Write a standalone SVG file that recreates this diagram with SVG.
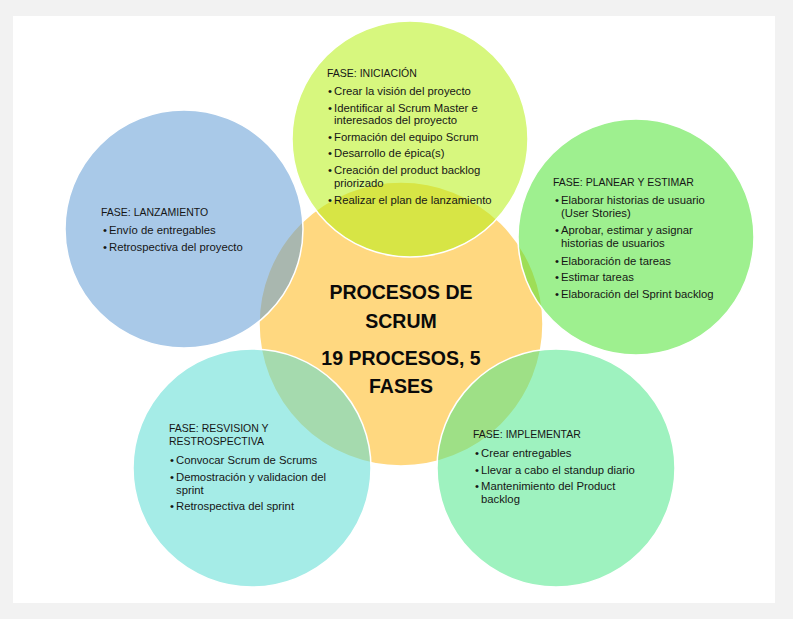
<svg xmlns="http://www.w3.org/2000/svg" width="793" height="619" viewBox="0 0 793 619">
  <style>
    .page { fill: #f2f2f2; }
    .panel { fill: #ffffff; }
    .disc { stroke: #ffffff; stroke-width: 1.5; }
    .phase { fill-opacity: 0.55; }
    text { font-family: "Liberation Sans", Arial, sans-serif; fill: #161616; }
    .head { font-size: 10.5px; }
    .item { font-size: 11.3px; }
    .core { font-size: 19.5px; font-weight: bold; fill: #0a0a0a; text-anchor: middle; }
  </style>

  <rect class="page" x="0" y="0" width="793" height="619"/>
  <rect class="panel" x="13" y="16" width="762" height="587"/>

  <!-- hub -->
  <g id="hub">
    <circle class="disc" cx="401" cy="324" r="142" fill="#ffd880"/>
  </g>

  <!-- phase: iniciación -->
  <g id="fase-iniciacion">
    <circle class="disc phase" cx="410" cy="139" r="118" fill="#b6f114"/>
    <text class="head" x="327" y="77">FASE: INICIACIÓN</text>
    <text class="item" x="328" y="95">•</text><text class="item" x="334" y="95">Crear la visión del proyecto</text>
    <text class="item" x="328" y="112">•</text><text class="item" x="334" y="112">Identificar al Scrum Master e</text>
    <text class="item" x="334" y="124">interesados del proyecto</text>
    <text class="item" x="328" y="141">•</text><text class="item" x="334" y="141">Formación del equipo Scrum</text>
    <text class="item" x="328" y="157">•</text><text class="item" x="334" y="157">Desarrollo de épica(s)</text>
    <text class="item" x="328" y="174">•</text><text class="item" x="334" y="174">Creación del product backlog</text>
    <text class="item" x="334" y="187">priorizado</text>
    <text class="item" x="328" y="204">•</text><text class="item" x="334" y="204">Realizar el plan de lanzamiento</text>
  </g>

  <!-- phase: planear y estimar -->
  <g id="fase-planear">
    <circle class="disc phase" cx="636" cy="237" r="118" fill="#4fe433"/>
    <text class="head" x="553" y="186">FASE: PLANEAR Y ESTIMAR</text>
    <text class="item" x="555" y="204">•</text><text class="item" x="561" y="204">Elaborar historias de usuario</text>
    <text class="item" x="561" y="217">(User Stories)</text>
    <text class="item" x="555" y="234">•</text><text class="item" x="561" y="234">Aprobar, estimar y asignar</text>
    <text class="item" x="561" y="247">historias de usuarios</text>
    <text class="item" x="555" y="265">•</text><text class="item" x="561" y="265">Elaboración de tareas</text>
    <text class="item" x="555" y="281">•</text><text class="item" x="561" y="281">Estimar tareas</text>
    <text class="item" x="555" y="298">•</text><text class="item" x="561" y="298">Elaboración del Sprint backlog</text>
  </g>

  <!-- phase: lanzamiento -->
  <g id="fase-lanzamiento">
    <circle class="disc phase" cx="184" cy="229" r="119" fill="#639dd5"/>
    <text class="head" x="101" y="216">FASE: LANZAMIENTO</text>
    <text class="item" x="103" y="234">•</text><text class="item" x="109" y="234">Envío de entregables</text>
    <text class="item" x="103" y="251">•</text><text class="item" x="109" y="251">Retrospectiva del proyecto</text>
  </g>

  <!-- phase: revisión y retrospectiva -->
  <g id="fase-revision">
    <circle class="disc phase" cx="252" cy="468" r="119" fill="#5bdcd3"/>
    <text class="head" x="169" y="432">FASE: RESVISION Y</text>
    <text class="head" x="169" y="445">RESTROSPECTIVA</text>
    <text class="item" x="170" y="464">•</text><text class="item" x="176" y="464">Convocar Scrum de Scrums</text>
    <text class="item" x="170" y="481">•</text><text class="item" x="176" y="481">Demostración y validacion del</text>
    <text class="item" x="176" y="494">sprint</text>
    <text class="item" x="170" y="510">•</text><text class="item" x="176" y="510">Retrospectiva del sprint</text>
  </g>

  <!-- phase: implementar -->
  <g id="fase-implementar">
    <circle class="disc phase" cx="556" cy="468" r="119" fill="#4fe78b"/>
    <text class="head" x="473" y="438">FASE: IMPLEMENTAR</text>
    <text class="item" x="475" y="457">•</text><text class="item" x="481" y="457">Crear entregables</text>
    <text class="item" x="475" y="474">•</text><text class="item" x="481" y="474">Llevar a cabo el standup diario</text>
    <text class="item" x="475" y="490">•</text><text class="item" x="481" y="490">Mantenimiento del Product</text>
    <text class="item" x="481" y="503">backlog</text>
  </g>

  <!-- hub caption, above the phase discs -->
  <g id="hub-label">
    <text class="core" x="401" y="299">PROCESOS DE</text>
    <text class="core" x="401" y="328">SCRUM</text>
    <text class="core" x="401" y="365">19 PROCESOS, 5</text>
    <text class="core" x="401" y="393">FASES</text>
  </g>
</svg>
